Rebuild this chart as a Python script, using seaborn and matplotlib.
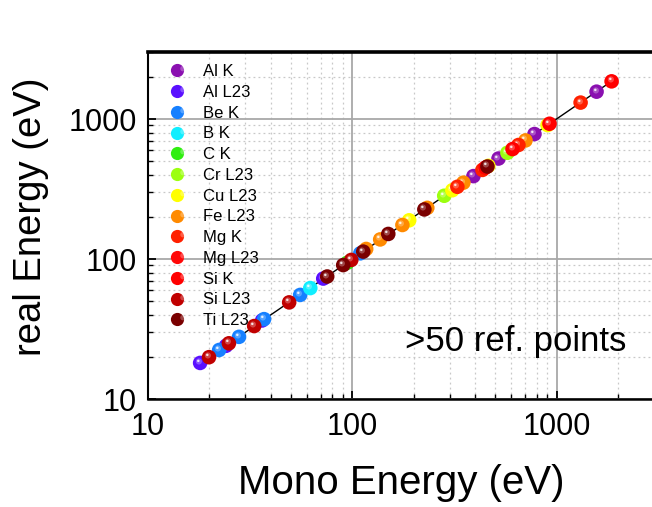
import numpy as np
import pandas as pd
import matplotlib
matplotlib.use("Agg")
import matplotlib.pyplot as plt
import seaborn as sns
from matplotlib.path import Path
from matplotlib.lines import Line2D
from matplotlib.legend_handler import HandlerTuple
from matplotlib.ticker import FixedLocator, NullFormatter, LogLocator

# ---------------- data ----------------
categories = ["Al K", "Al L23", "Be K", "B K", "C K", "Cr L23", "Cu L23",
              "Fe L23", "Mg K", "Mg L23", "Si K", "Si L23", "Ti L23"]
palette = ["#8a10b0", "#5a10ff", "#1680ff", "#10eeff", "#30ee10", "#9cff10",
           "#ffff00", "#ff8a00", "#ff2000", "#ff0808", "#ff0000", "#c00000", "#7a0000"]

element = ["Al K", "Al K", "Al K", "Al K",
           "Al L23", "Al L23", "Al L23", "Al L23",
           "Be K", "Be K", "Be K", "Be K", "Be K",
           "B K",
           "C K",
           "Cr L23", "Cr L23",
           "Cu L23", "Cu L23", "Cu L23", "Cu L23",
           "Fe L23", "Fe L23", "Fe L23", "Fe L23", "Fe L23", "Fe L23",
           "Mg K", "Mg K", "Mg K", "Mg K",
           "Si K", "Si K", "Si K", "Si K",
           "Si L23", "Si L23", "Si L23", "Si L23", "Si L23",
           "Ti L23", "Ti L23", "Ti L23", "Ti L23", "Ti L23", "Ti L23"]
mono_energy = [392, 520, 780, 1571,
               18.0, 24.1, 36.2, 72.1,
               22.3, 27.9, 37.0, 55.6, 109.5,
               62.3,
               94.5,
               282, 575,
               190, 309, 464, 904,
               117, 137, 176, 233, 350, 705,
               327, 434, 651, 1312,
               449, 609, 924, 1861,
               19.9, 24.9, 33.1, 49.1, 98.9,
               75.4, 90.3, 113.2, 150.1, 225.4, 459]
real_energy = [391, 522, 781, 1568,
               18.1, 24.0, 36.4, 72.5,
               22.4, 27.8, 37.2, 55.4, 109.8,
               62.0,
               94.0,
               283, 574,
               189, 310, 463, 905,
               118, 138, 175, 232, 351, 703,
               328, 433, 652, 1310,
               450, 610, 925, 1858,
               19.9, 25.0, 33.2, 49.0, 98.5,
               75.0, 90.5, 113.0, 151.0, 226.0, 458]

line_x = [17.5, 1870]
line_y = [17.5, 1870]

x_ticks = [10, 100, 1000]
y_ticks = [10, 100, 1000]
x_ticklabels = ["10", "100", "1000"]
y_ticklabels = ["10", "100", "1000"]

df = pd.DataFrame({"element": element, "mono": mono_energy, "real": real_energy})

# ---------------- style ----------------
sns.set_style("white")
plt.rcParams["font.family"] = ["Liberation Sans", "DejaVu Sans"]
plt.rcParams["text.color"] = "black"
plt.rcParams["axes.labelcolor"] = "black"
plt.rcParams["xtick.color"] = "black"
plt.rcParams["ytick.color"] = "black"

fig = plt.figure(figsize=(6.52, 5.07), dpi=100)
ax = fig.add_axes([0.227, 0.213, 0.776, 0.684])
ax.set_xscale("log")
ax.set_yscale("log")
ax.set_xlim(10, 3000)
ax.set_ylim(10, 3000)

# grid
ax.grid(True, which="major", color="#a8a8a8", linewidth=1.3, linestyle="-", zorder=0)
ax.grid(True, which="minor", color="#c8c8c8", linewidth=0.9, linestyle=(0, (1.5, 2.5)), zorder=0)
ax.set_axisbelow(True)

# identity line
sns.lineplot(x=line_x, y=line_y, ax=ax, color="black", linewidth=1.0, zorder=2)


def highlight_path(cx, cy, r):
    circ = Path.circle(center=(cx, cy), radius=r)
    verts = np.vstack([[[1.0, -1.0]], circ.vertices])
    codes = np.concatenate([[Path.MOVETO], circ.codes])
    return Path(verts, codes)


hl_big = highlight_path(-0.22, 0.28, 0.42)
hl_small = highlight_path(-0.30, 0.36, 0.17)

msize = 110
z = 3
for cat, col in zip(categories, palette):
    sub = df[df["element"] == cat]
    if sub.empty:
        continue
    sns.scatterplot(data=sub, x="mono", y="real", color=col, s=msize,
                    edgecolor="none", linewidth=0, ax=ax, zorder=z, legend=False)
    ax.scatter(sub["mono"], sub["real"], s=msize, marker=hl_big, color="white",
               alpha=0.28, linewidths=0, zorder=z + 0.1)
    ax.scatter(sub["mono"], sub["real"], s=msize, marker=hl_small, color="white",
               alpha=0.85, linewidths=0, zorder=z + 0.2)
    z += 1

# legend with shaded markers
handles = []
for col in palette:
    h1 = Line2D([], [], linestyle="none", marker="o", markersize=9.5,
                markerfacecolor=col, markeredgecolor="none")
    h2 = Line2D([], [], linestyle="none", marker=hl_big, markersize=9.5,
                markerfacecolor=(1, 1, 1, 0.28), markeredgecolor="none")
    h3 = Line2D([], [], linestyle="none", marker=hl_small, markersize=9.5,
                markerfacecolor=(1, 1, 1, 0.85), markeredgecolor="none")
    handles.append((h1, h2, h3))
leg = ax.legend(handles, categories, handler_map={tuple: HandlerTuple(ndivide=None, pad=0)},
                loc="upper left", bbox_to_anchor=(0.025, 1.004), frameon=False,
                fontsize=12, labelspacing=0.345, handlelength=1.2, handletextpad=0.55,
                borderaxespad=0.4)
leg.set_zorder(20)

# ticks
ax.xaxis.set_major_locator(FixedLocator(x_ticks))
ax.yaxis.set_major_locator(FixedLocator(y_ticks))
ax.set_xticklabels(x_ticklabels)
ax.set_yticklabels(y_ticklabels)
ax.xaxis.set_minor_locator(LogLocator(base=10, subs=np.arange(2, 10)))
ax.yaxis.set_minor_locator(LogLocator(base=10, subs=np.arange(2, 10)))
ax.xaxis.set_minor_formatter(NullFormatter())
ax.yaxis.set_minor_formatter(NullFormatter())
ax.tick_params(which="major", direction="in", length=6, width=1.3, labelsize=22,
               bottom=True, left=True, top=False, right=False, color="black")
ax.tick_params(which="minor", direction="in", length=3.5, width=1.0,
               bottom=True, left=True, top=False, right=False, color="black")
ax.tick_params(axis="x", which="major", pad=9)
ax.tick_params(axis="y", which="major", pad=8)

# spines
for side in ["left", "bottom", "top"]:
    ax.spines[side].set_color("black")
ax.spines["left"].set_linewidth(1.5)
ax.spines["bottom"].set_linewidth(1.8)
ax.spines["top"].set_linewidth(2.6)
ax.spines["right"].set_visible(False)

ax.set_xlabel("Mono Energy (eV)", fontsize=29, labelpad=16)
ax.set_ylabel("real Energy (eV)", fontsize=27.5)
ax.yaxis.set_label_coords(-0.195, 0.525)

ax.text(0.508, 0.165, ">50 ref. points", transform=ax.transAxes, fontsize=25,
        ha="left", va="center", zorder=25)

fig.savefig("out.png", dpi=100)
